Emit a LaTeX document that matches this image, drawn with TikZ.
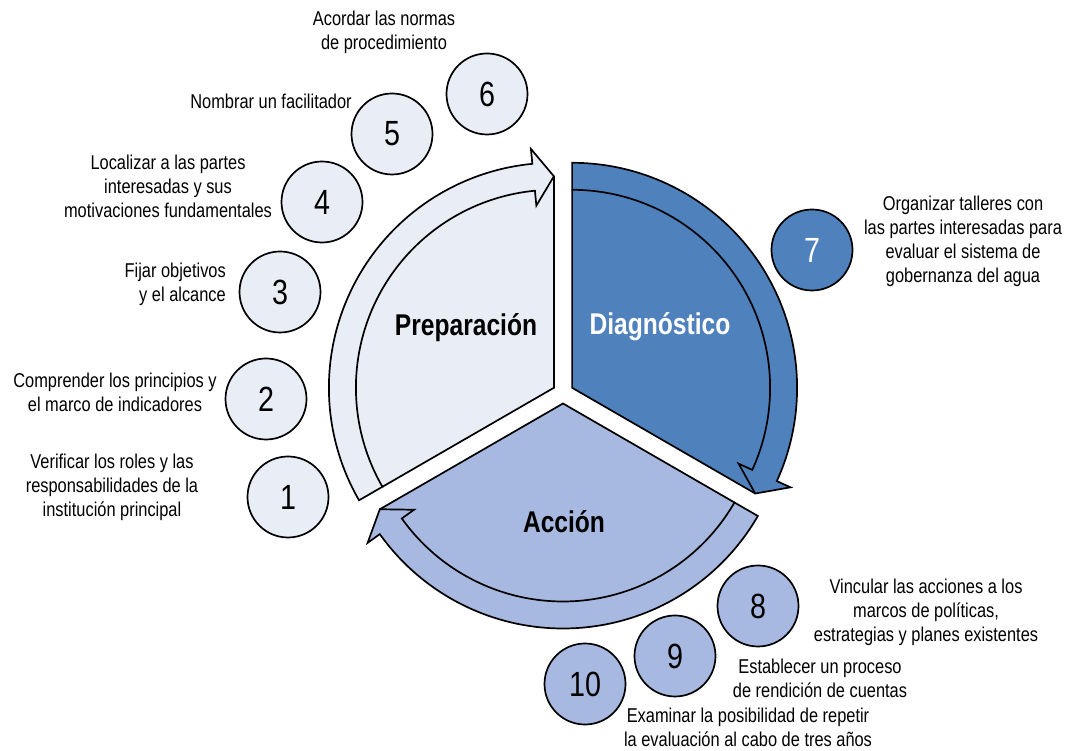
\documentclass[tikz,border=0pt]{standalone}
\usepackage{fontspec}
\setmainfont{Liberation Sans}[FakeStretch=0.82]
\definecolor{prepc}{RGB}{233,237,246}
\definecolor{diagc}{RGB}{79,129,189}
\definecolor{accc}{RGB}{167,185,225}
\begin{document}
\begin{tikzpicture}[x=1pt,y=1pt,
  shp/.style={draw=black, line width=1.7pt, line join=miter},
  num/.style={circle, draw=black, line width=1.7pt, minimum size=81pt, inner sep=0pt, font=\fontsize{35}{35}\selectfont},
  lbl/.style={align=center, font=\fontsize{20}{24}\selectfont, inner sep=0pt},
  big/.style={font=\bfseries\fontsize{30}{30}\selectfont, inner sep=0pt}]
\useasboundingbox (0,0) rectangle (1070,751);
\coordinate (P) at (553.9,363.2);
\coordinate (D) at (572.1,363.2);
\coordinate (A) at (563,347.5);
% Preparacion
\begin{scope}[shift={(P)}]
\fill[prepc] (0,0) -- (90:211.5) -- (95.5:183) -- (95.5:198) arc[start angle=95.5,end angle=210,radius=198] -- cycle;
\draw[shp, fill=prepc] (210:225) arc[start angle=210,end angle=95.5,radius=225] -- (95.5:240) -- (90:211.5) -- (95.5:183) -- (95.5:198) arc[start angle=95.5,end angle=210,radius=198] -- cycle;
\draw[shp] (210:198) -- (0,0) -- (90:211.5);
\end{scope}
% Diagnostico
\begin{scope}[shift={(D)}]
\fill[diagc] (0,0) -- (90:198) arc[start angle=90,end angle=-24.5,radius=198] -- (-24.5:183) -- (-30:211.5) -- cycle;
\draw[shp, fill=diagc] (90:225) arc[start angle=90,end angle=-24.5,radius=225] -- (-24.5:240) -- (-30:211.5) -- (-24.5:183) -- (-24.5:198) arc[start angle=-24.5,end angle=90,radius=198] -- cycle;
\draw[shp] (90:198) -- (0,0) -- (-30:211.5);
\end{scope}
% Accion
\begin{scope}[shift={(A)}]
\fill[accc] (0,0) -- (330:198) arc[start angle=330,end angle=215.5,radius=198] -- (215.5:183) -- (210:211.5) -- cycle;
\draw[shp, fill=accc] (330:225) arc[start angle=330,end angle=215.5,radius=225] -- (215.5:240) -- (210:211.5) -- (215.5:183) -- (215.5:198) arc[start angle=215.5,end angle=330,radius=198] -- cycle;
\draw[shp] (330:198) -- (0,0) -- (210:211.5);
\end{scope}
\node[big] (tprep) at (466,423) {Preparación};
\node[big, text=white] (tdiag) at (660,424) {Diagnóstico};
\node[big] (tacc) at (564,229) {Acción};
% numbered circles
\node[num, fill=prepc] (c1) at (288,254) {1};
\node[num, fill=prepc] (c2) at (266,352) {2};
\node[num, fill=prepc] (c3) at (280,459) {3};
\node[num, fill=prepc] (c4) at (322,549) {4};
\node[num, fill=prepc] (c5) at (392,617) {5};
\node[num, fill=prepc] (c6) at (487,657) {6};
\node[num, fill=diagc, text=white] (c7) at (812,501) {7};
\node[num, fill=accc] (c8) at (758,145) {8};
\node[num, fill=accc] (c9) at (675,95) {9};
\node[num, fill=accc] (c10) at (585,67) {10};
% labels
\node[lbl] (l1) at (112,264) {Verificar los roles y las\\responsabilidades de la\\institución principal};
\node[lbl] (l2) at (115,358.5) {Comprender los principios y\\el marco de indicadores};
\node[lbl, align=right, anchor=east] (l3) at (226,467) {Fijar objetivos\\y el alcance};
\node[lbl] (l4) at (168,564.3) {Localizar a las partes\\interesadas y sus\\motivaciones fundamentales};
\node[lbl] (l5) at (271,650) {Nombrar un facilitador};
\node[lbl] (l6) at (384,718.5) {Acordar las normas\\de procedimiento};
\node[lbl] (l7) at (963,510) {Organizar talleres con\\las partes interesadas para\\evaluar el sistema de\\gobernanza del agua};
\node[lbl] (l8) at (926,139) {Vincular las acciones a los\\marcos de políticas,\\estrategias y planes existentes};
\node[lbl] (l9) at (820,72.5) {Establecer un proceso\\de rendición de cuentas};
\node[lbl] (l10) at (748,23.5) {Examinar la posibilidad de repetir\\la evaluación al cabo de tres años};
\end{tikzpicture}
\end{document}
